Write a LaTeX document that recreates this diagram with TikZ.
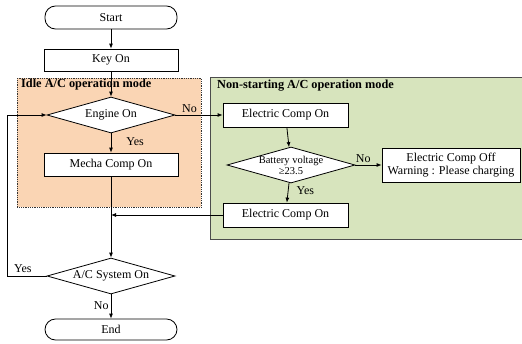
\documentclass[tikz,border=0pt]{standalone}
\usepackage{fontspec}
\setmainfont{Liberation Serif}
\usetikzlibrary{shapes.geometric,arrows.meta}
\definecolor{peach}{RGB}{250,213,180}
\definecolor{sage}{RGB}{215,228,189}
\begin{document}
\begin{tikzpicture}[x=1pt,y=-1pt,
  txt/.style={font=\fontsize{12}{14}\selectfont},
  box/.style={draw,fill=white,line width=0.8pt,inner sep=0pt,txt,align=center},
  term/.style={box,rounded corners=10.5pt},
  dia/.style={draw,fill=white,line width=0.8pt,diamond,inner sep=0pt,minimum width=128pt,minimum height=36pt},
  arr/.style={line width=0.8pt,-{Latex[length=5pt,width=4pt]}},
  lbl/.style={txt,inner sep=0pt},
  ttl/.style={font=\fontsize{12.3}{14}\selectfont\bfseries,anchor=west,inner sep=0pt}]
\useasboundingbox (0,0) rectangle (522,343);
% regions
\node[draw=black!80,densely dotted,line width=0.8pt,fill=peach,minimum width=184pt,minimum height=129pt,anchor=north west,inner sep=0pt] (idle) at (17,78) {};
\node[ttl] (idlet) at (21,85) {Idle A/C operation mode};
\node[draw=black!70,line width=0.8pt,fill=sage,minimum width=314pt,minimum height=162pt,anchor=north west,inner sep=0pt] (nsr) at (210,77) {};
\node[ttl] (nsrt) at (217,86) {Non-starting A/C operation mode};
% nodes
\node[term,minimum width=132pt,minimum height=23pt] (start) at (111,17.5) {Start};
\node[box,minimum width=134pt,minimum height=22pt] (key) at (111,60) {Key On};
\node[dia,label={[txt]center:Engine On}] (engine) at (111,115) {};
\node[box,minimum width=134pt,minimum height=23pt] (mecha) at (111,164.5) {Mecha Comp On};
\node[box,minimum width=125pt,minimum height=24pt] (eco1) at (285.5,115) {Electric Comp On};
\node[dia,label={[font=\fontsize{10.5}{11}\selectfont,align=center]center:Battery voltage\\≥23.5}] (batt) at (291,165) {};
\node[box,minimum width=138pt,minimum height=34pt,font=\fontsize{12}{13}\selectfont] (ecoff) at (451,165) {Electric Comp Off\\Warning : Please charging};
\node[box,minimum width=125pt,minimum height=24pt] (eco2) at (285.5,215) {Electric Comp On};
\node[dia,label={[txt]center:A/C System On}] (ac) at (111,276) {};
\node[term,minimum width=132pt,minimum height=21pt] (end) at (111,329.5) {End};
\coordinate (loop) at (7,276);
% connectors
\draw[arr] (start) -- (key);
\draw[arr] (key) -- (engine);
\draw[arr] (engine) -- node[lbl,right,pos=0.45,xshift=15pt] {Yes} (mecha);
\draw[arr] (engine.east) -- node[lbl,above,pos=0.3,yshift=2pt] {No} (eco1.west);
\draw[arr] (eco1) -- (batt);
\draw[arr] (batt.east) -- node[lbl,above,pos=0.3,yshift=2pt] {No} (ecoff.west);
\draw[arr] (batt) -- node[lbl,right,pos=0.4,xshift=8pt] {Yes} (eco2);
\draw[arr] (eco2.west) -- (eco2.west -| mecha.south);
\draw[arr] (mecha) -- (ac);
\draw[arr] (ac.west) -- node[lbl,above,pos=0.6,yshift=3pt] {Yes} (loop) |- (engine.west);
\draw[arr] (ac) -- node[lbl,left,pos=0.45,xshift=-2pt] {No} (end);
\end{tikzpicture}
\end{document}
